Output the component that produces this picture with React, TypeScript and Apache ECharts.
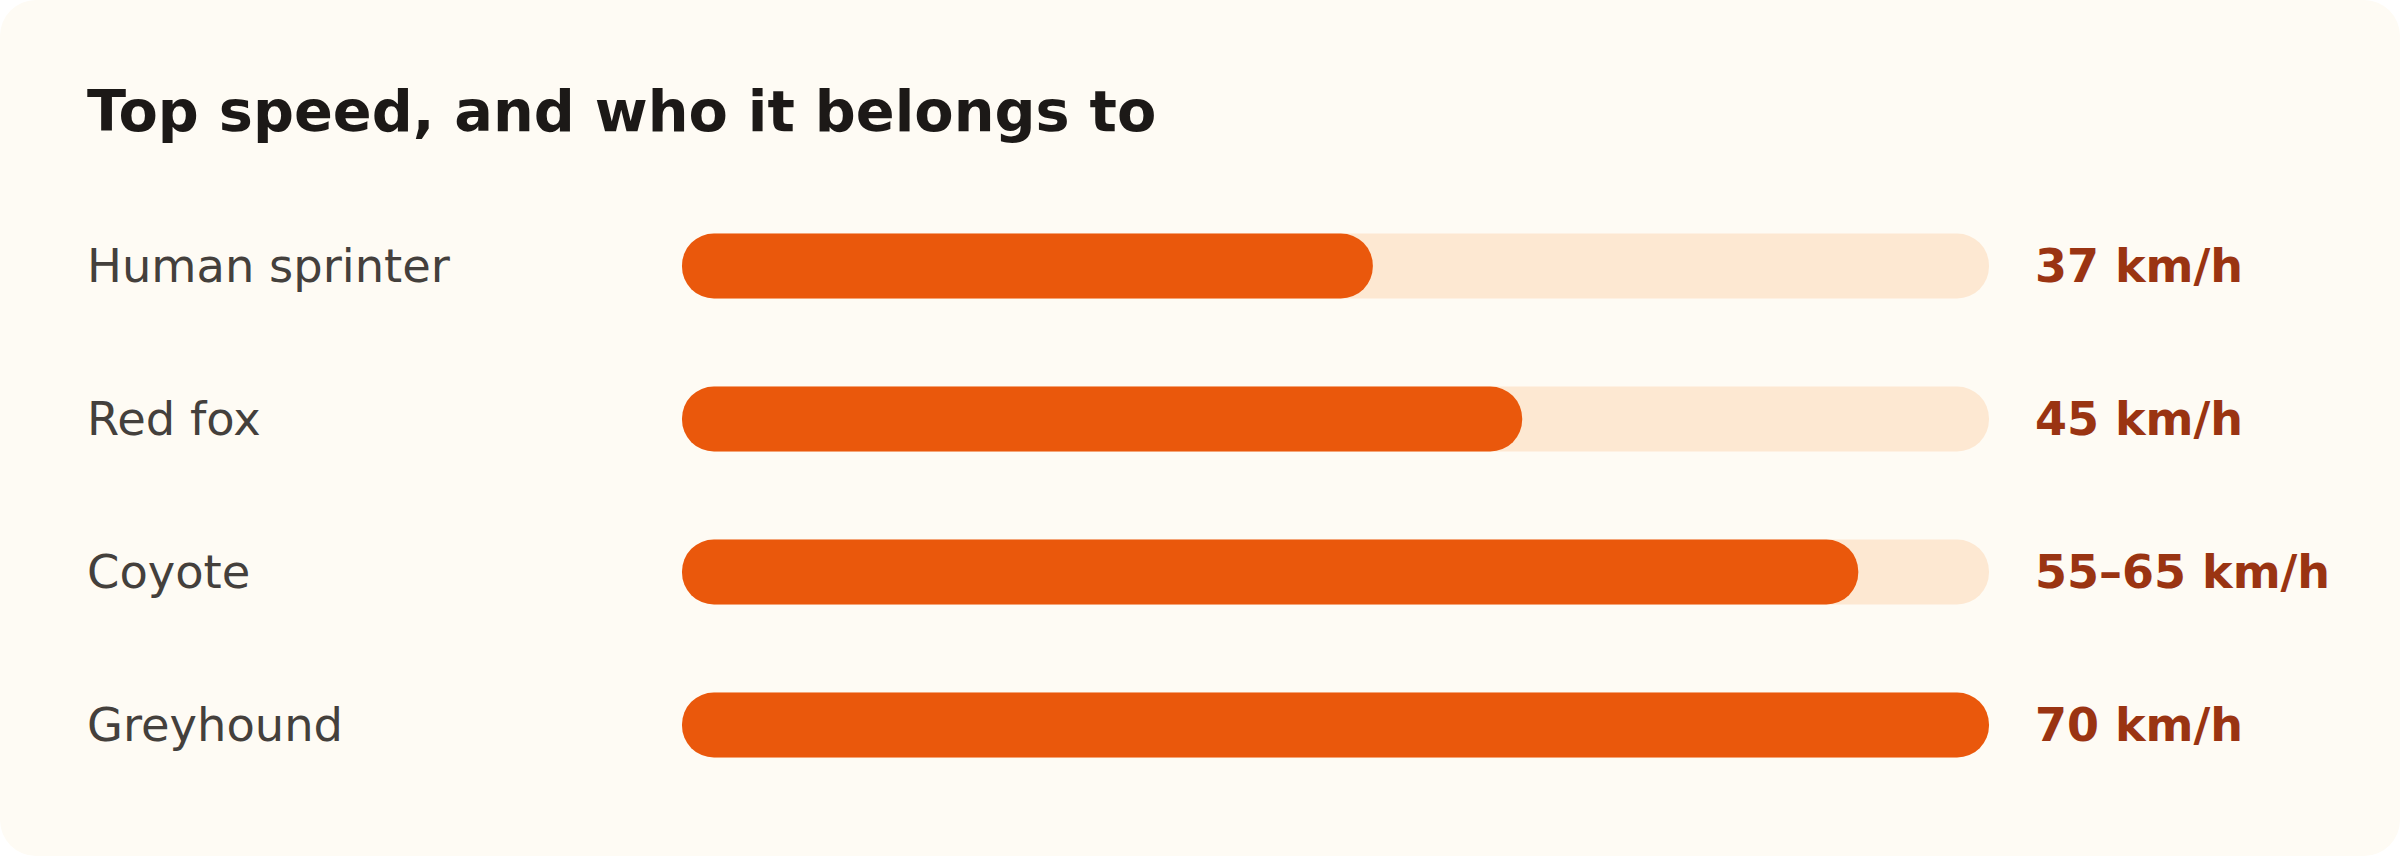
import { useEffect, useRef } from 'react'
import * as echarts from 'echarts'

const animals = ['Human sprinter', 'Red fox', 'Coyote', 'Greyhound']
const speeds = [37, 45, 63, 70]
const speedLabels = ['37 km/h', '45 km/h', '55–65 km/h', '70 km/h']
const maxSpeed = 70

const FONT = '"DejaVu Sans", Verdana, sans-serif'

export default function App() {
  const chartRef = useRef<HTMLDivElement>(null)

  useEffect(() => {
    if (!chartRef.current) return
    const chart = echarts.init(chartRef.current, undefined, { renderer: 'svg' })

    chart.setOption({
      animation: false,
      backgroundColor: 'transparent',
      graphic: [
        {
          type: 'rect',
          silent: true,
          z: -10,
          shape: { x: 0, y: 0, width: 2400, height: 856, r: 36 },
          style: { fill: '#fefbf4' },
        },
      ],
      title: {
        text: 'Top speed, and who it belongs to',
        left: 87,
        top: 83,
        padding: 0,
        textStyle: { fontFamily: FONT, fontSize: 57.3, fontWeight: 'bold', color: '#1c1917' },
      },
      grid: { left: 682, right: 411, top: 189.5, bottom: 54.5 },
      xAxis: { type: 'value', min: 0, max: maxSpeed, show: false },
      yAxis: [
        {
          type: 'category',
          data: animals,
          inverse: true,
          axisLine: { show: false },
          axisTick: { show: false },
          splitLine: { show: false },
          axisLabel: {
            align: 'left',
            margin: 595,
            fontFamily: FONT,
            fontSize: 46.4,
            color: '#44403c',
          },
        },
        {
          type: 'category',
          data: speedLabels,
          inverse: true,
          position: 'right',
          axisLine: { show: false },
          axisTick: { show: false },
          splitLine: { show: false },
          axisLabel: {
            align: 'left',
            margin: 46,
            fontFamily: FONT,
            fontSize: 46,
            fontWeight: 'bold',
            color: '#9a3412',
          },
        },
      ],
      series: [
        {
          type: 'bar',
          data: speeds,
          barWidth: 65,
          showBackground: true,
          backgroundStyle: { color: '#fde8d2', borderRadius: 32 },
          itemStyle: { color: '#ea580c', borderRadius: 32 },
        },
      ],
    })

    return () => chart.dispose()
  }, [])

  return (
    <div style={{ position: 'absolute', left: 0, top: 0, width: 2400, height: 856, background: '#ffffff' }}>
      <div ref={chartRef} style={{ width: 2400, height: 856 }} />
    </div>
  )
}
